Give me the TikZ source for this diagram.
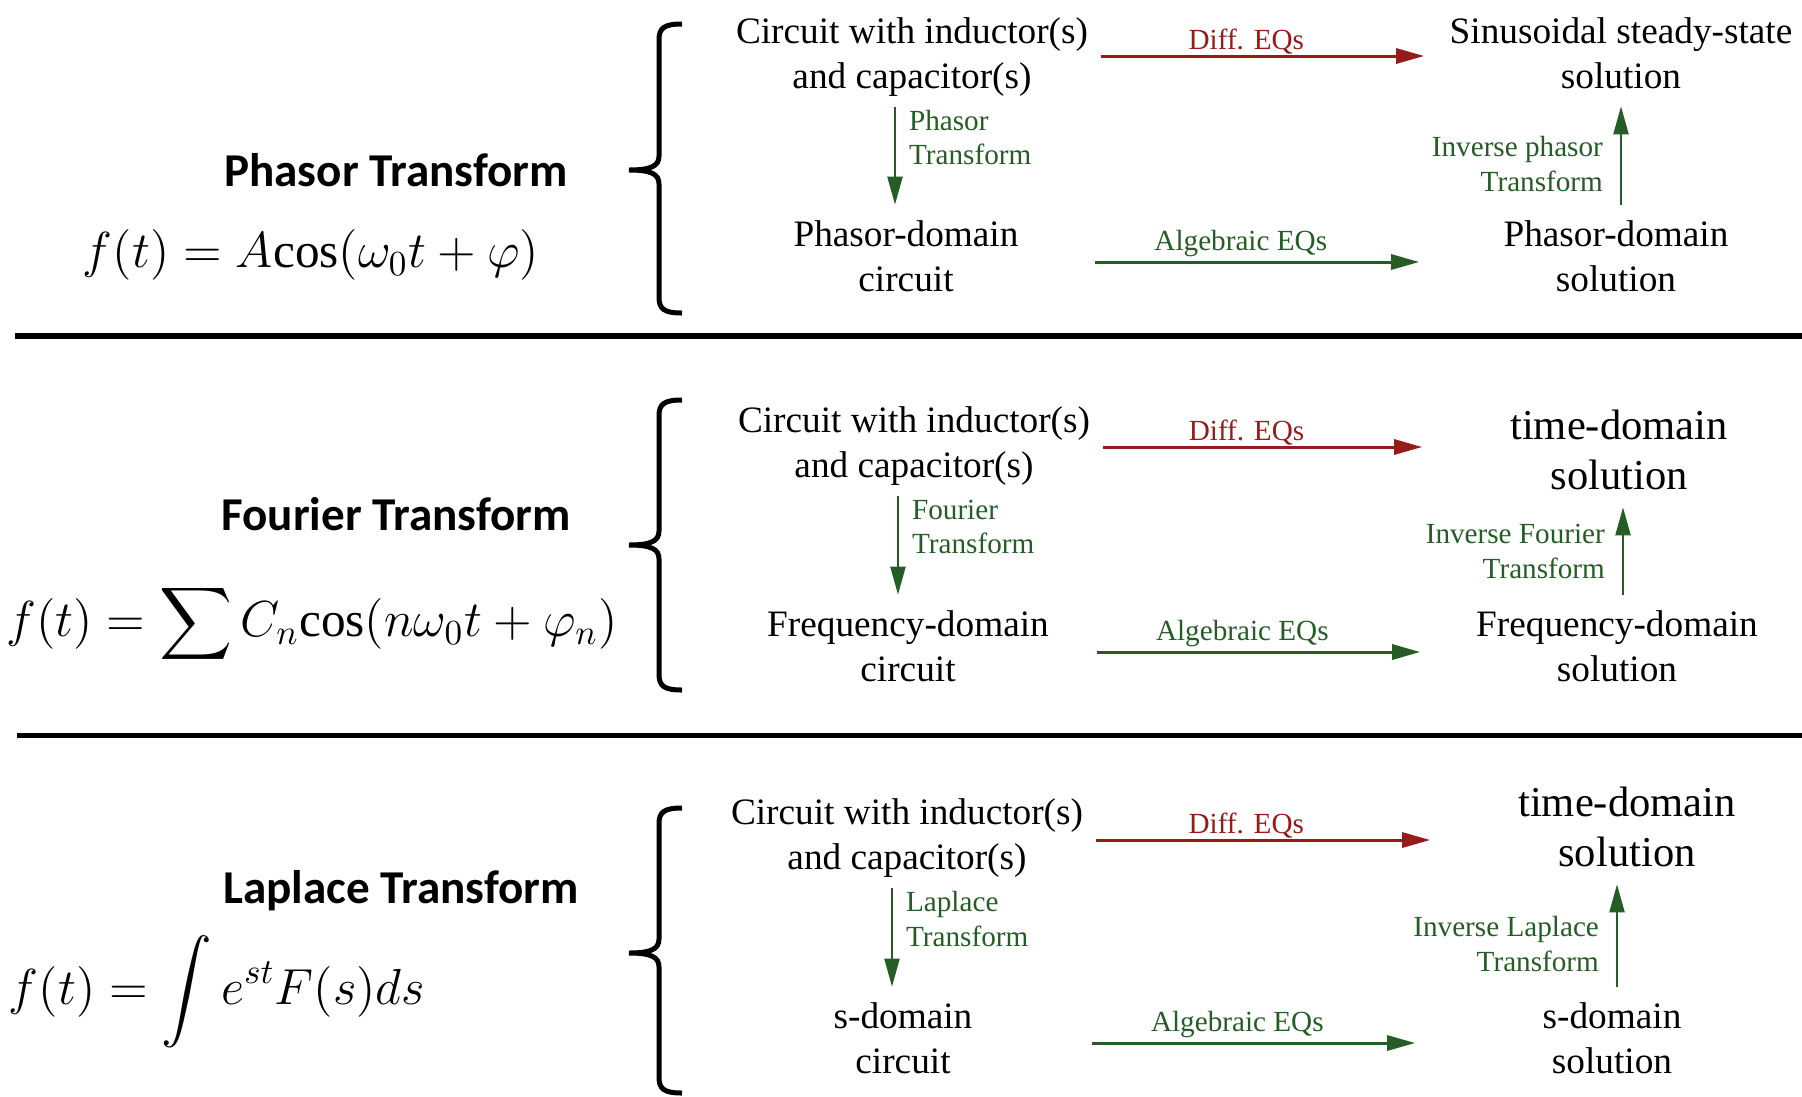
\documentclass[tikz,border=0pt]{standalone}
\usepackage{fontspec}
\setmainfont{Liberation Serif}
\newfontfamily\headfont{Carlito}
\usepackage{amsmath}
\usetikzlibrary{arrows.meta}

\definecolor{diffred}{RGB}{150,28,28}
\definecolor{eqgreen}{RGB}{38,92,38}

\tikzset{
  leftbox/.style={align=center, inner sep=0pt, minimum width=3.76cm, font=\fontsize{10.6}{12.8}\selectfont},
  rightbox/.style={leftbox, minimum width=3.92cm},
  bigbox/.style={rightbox, font=\fontsize{12.1}{14.3}\selectfont},
  title/.style={inner sep=0pt, font=\headfont\bfseries\fontsize{13.4}{16}\selectfont},
  formula/.style={inner sep=0pt, font=\fontsize{14}{16}\selectfont},
  diffarrow/.style={draw=diffred, line width=0.03cm, -{Triangle[length=0.28cm,width=0.15cm]}},
  eqarrow/.style={diffarrow, draw=eqgreen},
  downarrow/.style={eqarrow, line width=0.022cm, shorten <=0.10cm, shorten >=0.15cm},
  uparrow/.style={eqarrow, line width=0.022cm, shorten <=0.15cm, shorten >=0.165cm},
  edgelabel/.style={inner sep=0pt, font=\fontsize{8.3}{9.8}\selectfont},
  difflabel/.style={edgelabel, text=diffred, above, pos=0.45},
  eqlabel/.style={edgelabel, text=eqgreen},
  alglabel/.style={eqlabel, above=0.04cm, pos=0.45},
  leftlabel/.style={eqlabel, anchor=west, align=left, inner xsep=0.13cm, pos=0.33},
  rightlabel/.style={eqlabel, anchor=east, align=right, inner xsep=0.17cm, pos=0.43}
}

\begin{document}
\begin{tikzpicture}[x=0.01cm, y=-0.01cm]
\useasboundingbox (0,0) rectangle (1802,1096);

% separators
\draw[line width=0.055cm] (15,336) -- (1802,336);
\draw[line width=0.055cm] (17,735.5) -- (1802,735.5);

% braces
\foreach \t/\m/\b in {24/170/313, 400/545/690, 808/953/1093}
  \draw[line width=0.05cm] (682,\t) .. controls (664,\t) and (659,\t+4) .. (659,\t+16)
    -- (659,\m-14) .. controls (659,\m-4) and (651,\m) .. (629,\m)
    .. controls (651,\m) and (659,\m+4) .. (659,\m+14)
    -- (659,\b-16) .. controls (659,\b-4) and (664,\b) .. (682,\b);

% Phasor
\node[title] (phtitle) at (396,170) {Phasor Transform};
\node[formula] (phform) at (311,255) {$f(t) = A\mathrm{cos}(\omega_0 t + \varphi)$};
\node[leftbox] (ckt1) at (912,57) {Circuit with inductor(s)\\and capacitor(s)};
\node[rightbox] (sss1) at (1621,53.5) {Sinusoidal steady-state\\solution};
\node[leftbox] (pdc1) at (906,256) {Phasor-domain\\circuit};
\node[rightbox] (pds1) at (1616,256) {Phasor-domain\\solution};
\draw[diffarrow] ([yshift=0.01cm]ckt1.east) -- node[difflabel] {Diff. EQs} ([yshift=0.01cm]ckt1.east -| sss1.west);
\draw[eqarrow] ([yshift=-0.06cm]pdc1.east) -- node[alglabel] {Algebraic EQs} ([yshift=-0.06cm]pdc1.east -| pds1.west);
\draw[downarrow] ([xshift=-0.17cm]ckt1.south) -- node[leftlabel] {Phasor\\Transform} ([xshift=-0.17cm]ckt1.south |- pdc1.north);
\draw[uparrow] ([xshift=0.05cm]pds1.north) -- node[rightlabel] {Inverse phasor\\Transform} ([xshift=0.05cm]pds1.north |- sss1.south);

% Fourier
\node[title] (fotitle) at (396,514) {Fourier Transform};
\node[formula] (foform) at (312,624) {$f(t) = \displaystyle\sum C_n\mathrm{cos}(n\omega_0 t + \varphi_n)$};
\node[leftbox] (ckt2) at (914,446) {Circuit with inductor(s)\\and capacitor(s)};
\node[bigbox] (td2) at (1619,450) {time-domain\\solution};
\node[leftbox] (fdc2) at (908,646) {Frequency-domain\\circuit};
\node[rightbox] (fds2) at (1617,646) {Frequency-domain\\solution};
\draw[diffarrow] ([yshift=-0.01cm]ckt2.east) -- node[difflabel] {Diff. EQs} ([yshift=-0.01cm]ckt2.east -| td2.west);
\draw[eqarrow] ([yshift=-0.06cm]fdc2.east) -- node[alglabel] {Algebraic EQs} ([yshift=-0.06cm]fdc2.east -| fds2.west);
\draw[downarrow] ([xshift=-0.16cm]ckt2.south) -- node[leftlabel] {Fourier\\Transform} ([xshift=-0.16cm]ckt2.south |- fdc2.north);
\draw[uparrow] ([xshift=0.06cm]fds2.north) -- node[rightlabel, pos=0.49] {Inverse Fourier\\Transform} ([xshift=0.06cm]fds2.north |- td2.south);

% Laplace
\node[title] (latitle) at (401,891) {Laplace Transform};
\node[formula] (laform) at (217,992) {$f(t) = \displaystyle\int e^{st}F(s)ds$};
\node[leftbox] (ckt3) at (907,838) {Circuit with inductor(s)\\and capacitor(s)};
\node[bigbox] (td3) at (1627,827) {time-domain\\solution};
\node[leftbox] (sdc3) at (903,1038) {s-domain\\circuit};
\node[rightbox] (sds3) at (1612,1038) {s-domain\\solution};
\draw[diffarrow] ([yshift=-0.02cm]ckt3.east) -- node[difflabel] {Diff. EQs} ([yshift=-0.02cm]ckt3.east -| td3.west);
\draw[eqarrow] ([yshift=-0.05cm]sdc3.east) -- node[alglabel] {Algebraic EQs} ([yshift=-0.05cm]sdc3.east -| sds3.west);
\draw[downarrow] ([xshift=-0.15cm]ckt3.south) -- node[leftlabel] {Laplace\\Transform} ([xshift=-0.15cm]ckt3.south |- sdc3.north);
\draw[uparrow] ([xshift=0.05cm]sds3.north) -- node[rightlabel] {Inverse Laplace\\Transform} ([xshift=0.05cm]sds3.north |- td3.south);
\end{tikzpicture}
\end{document}
